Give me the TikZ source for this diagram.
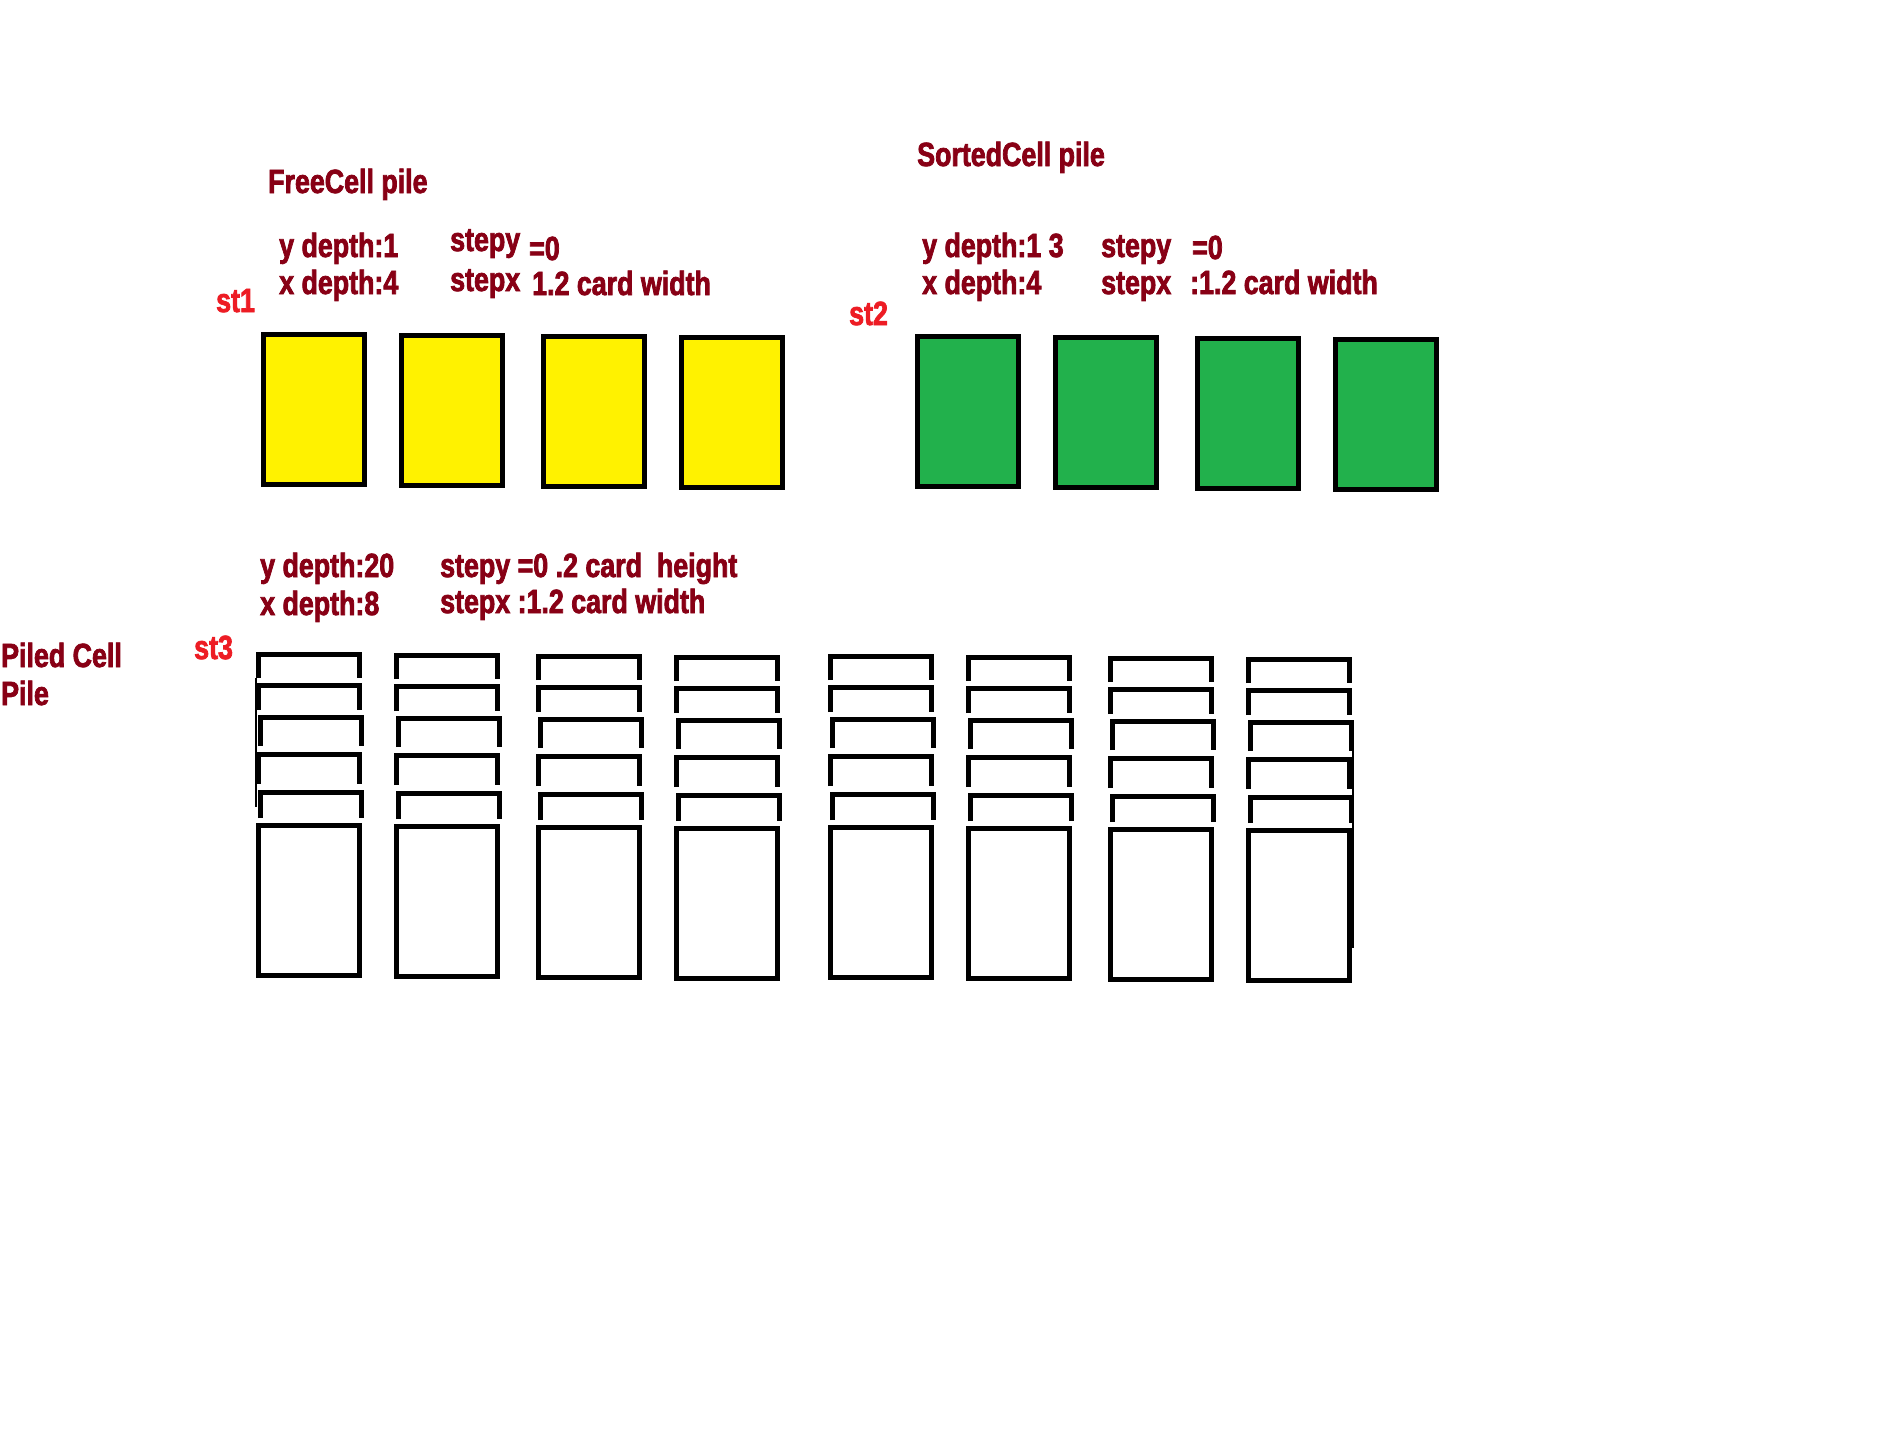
\documentclass[tikz,border=0pt]{standalone}
\usepackage{fontspec}
\newfontfamily\paintfont{Liberation Sans Bold}[FakeStretch=0.8, FakeBold=2.2]
\definecolor{pilered}{HTML}{880015}
\definecolor{tagred}{HTML}{ED1C24}
\definecolor{freeyellow}{HTML}{FFF200}
\definecolor{sortgreen}{HTML}{22B14C}
\begin{document}
\begin{tikzpicture}[x=1pt, y=-1pt,
    card/.style={draw, rectangle, line width=5pt, inner sep=0pt, minimum width=101pt, minimum height=150pt},
    note/.style={anchor=base west, inner sep=0pt, text=pilered, font=\paintfont\fontsize{33.5}{40}\selectfont},
    tag/.style={note, text=tagred},
    bracket/.style={line width=5pt}]
    \useasboundingbox[fill=white] (0,0) rectangle (1890,1452);

    % FreeCell pile
    \node[note] (freetitle) at (268,193) {FreeCell pile};
    \node[note] (freeydepth) at (279,257) {y depth:1};
    \node[note] (freexdepth) at (279,294) {x depth:4};
    \node[note] (freestepy) at (450,251) {stepy};
    \node[note] (freestepyval) at (529,260) {=0};
    \node[note] (freestepx) at (450,291) {stepx};
    \node[note] (freestepxval) at (532,295) {1.2 card width};
    \node[tag] (st1) at (216,312) {st1};
    \node[card, fill=freeyellow] (free1) at (314,409.5) {};
    \node[card, fill=freeyellow] (free2) at (452,410.5) {};
    \node[card, fill=freeyellow] (free3) at (594,411.5) {};
    \node[card, fill=freeyellow] (free4) at (732,412.5) {};

    % SortedCell pile
    \node[note] (sorttitle) at (917,166) {SortedCell pile};
    \node[note] (sortydepth) at (922,257) {y depth:1 3};
    \node[note] (sortxdepth) at (922,294) {x depth:4};
    \node[note] (sortstepy) at (1101,257) {stepy};
    \node[note] (sortstepyval) at (1192,259) {=0};
    \node[note] (sortstepx) at (1101,294) {stepx};
    \node[note] (sortstepxval) at (1190,294) {:1.2 card width};
    \node[tag] (st2) at (849,325) {st2};
    \node[card, fill=sortgreen] (sort1) at (968,411.5) {};
    \node[card, fill=sortgreen] (sort2) at (1106,412.5) {};
    \node[card, fill=sortgreen] (sort3) at (1248,413.5) {};
    \node[card, fill=sortgreen] (sort4) at (1386,414.5) {};

    % Piled Cell pile
    \node[note] (pileydepth) at (260,577) {y depth:20};
    \node[note] (pilexdepth) at (260,615) {x depth:8};
    \node[note] (pilestepy) at (440,577) {stepy =0 .2 card\ \ height};
    \node[note] (pilestepx) at (440,613) {stepx :1.2 card width};
    \node[note] (piletitle) at (1,667) {Piled Cell};
    \node[note] (piletitle2) at (1,705) {Pile};
    \node[tag] (st3) at (194,659) {st3};
    \foreach \cx/\cy [count=\i] in {256/652, 394/653, 536/654, 674/655, 828/654, 966/655, 1108/656, 1246/657} {
        \foreach \ry/\rx/\leg in {0/0/26, 31/0/58, 63/2/94, 100/0/132, 138/2/166}
            \draw[bracket] (\cx+\rx+2.5,\cy+\leg) -- (\cx+\rx+2.5,\cy+\ry+2.5) -- (\cx+\rx+103.5,\cy+\ry+2.5) -- (\cx+\rx+103.5,\cy+\leg);
        \node[card, fill=white] (pile\i) at (\cx+53,\cy+248.5) {};
    }
    \draw[line width=1.5pt] (256,678) -- (256,807);
    \draw[line width=1.5pt] (1353,746) -- (1353,948);
\end{tikzpicture}
\end{document}
